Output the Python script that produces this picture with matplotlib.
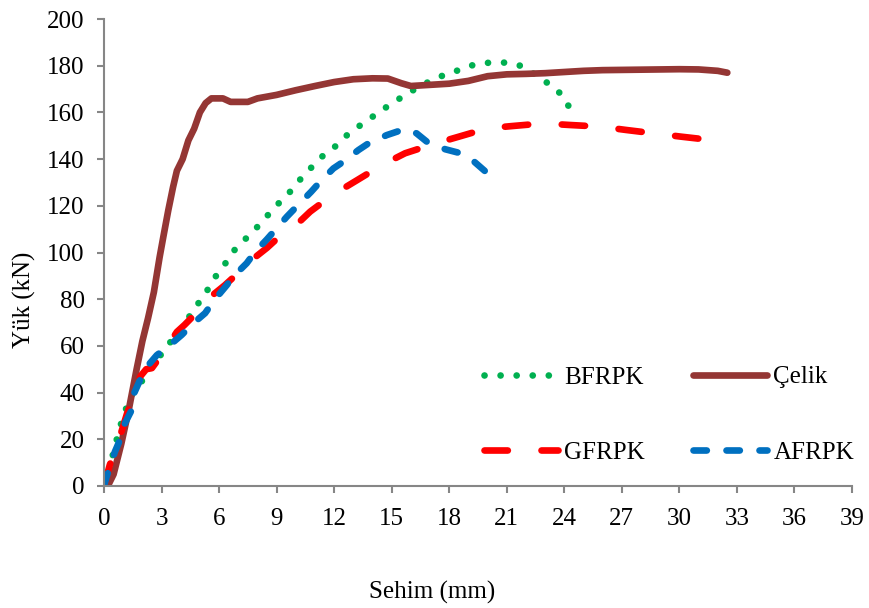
import matplotlib
matplotlib.use("Agg")
import matplotlib.pyplot as plt

plt.rcParams['font.family'] = ['Liberation Serif', 'DejaVu Serif']

# Yük-sehim verileri
celik_x = [0.2, 0.5, 0.9, 1.3, 1.7, 2.0, 2.3, 2.6, 2.9, 3.1, 3.35, 3.6, 3.8, 4.1, 4.4, 4.7, 5.0, 5.3,
           5.6, 6.2, 6.6, 7.5, 8.0, 9.0, 10.0, 11.0, 12.0, 13.0, 14.0, 14.8, 15.5, 16.0, 17.0, 18.0,
           19.0, 20.0, 21.0, 22.0, 23.0, 24.0, 25.0, 26.0, 28.0, 30.0, 31.0, 32.0, 32.5]
celik_y = [0, 5, 18, 33, 50, 62, 72, 83, 98, 107, 118, 128, 135, 140, 148, 153, 160, 164,
           166, 166, 164.5, 164.5, 166, 167.5, 169.5, 171.3, 173, 174.2, 174.6, 174.5, 172.5, 171.3, 171.8, 172.3,
           173.5, 175.5, 176.3, 176.5, 176.8, 177.3, 177.8, 178.1, 178.3, 178.5, 178.4, 177.8, 177]

bfrpk_x = [0, 0.3, 0.6, 0.9, 1.1, 1.4, 1.9, 2.4, 2.9, 3.4, 3.9, 4.4, 4.9, 5.4, 5.8, 6.3, 6.8, 7.4, 8.0,
           8.5, 9.1, 9.7, 10.2, 10.8, 11.4, 12.1, 12.7, 13.4, 14.1, 14.8, 15.5, 16.2, 17.0, 17.7, 18.6,
           19.35, 20.2, 21.06, 21.9, 22.6, 23.3, 23.9, 24.3]
bfrpk_y = [0, 8, 18, 27, 32, 38.5, 44, 50, 55.5, 61, 66, 72, 78, 84, 89.5, 95, 101, 106, 111,
           115.6, 121, 126, 131, 136.3, 141.3, 145.7, 150.5, 154.7, 158.7, 162.7, 166.4, 169.9, 173.4, 175.9, 178.4,
           180.6, 181.4, 181.3, 179.6, 175.3, 171.7, 167.3, 161.6]

gfrpk_x = [0, 0.3, 0.6, 0.9, 1.2, 1.5, 1.9, 2.2, 2.5, 2.9, 3.4, 3.8, 4.2, 4.8, 5.4, 6.3, 6.9, 7.5, 8.5,
           9.1, 9.7, 10.2, 10.75, 11.4, 12.05, 13.2, 14.5, 15.7, 17.2, 18.5, 20.0, 21.35, 22.9, 24.3,
           25.9, 27.2, 28.7, 30.1, 31.6, 32.3]
gfrpk_y = [0, 9, 16, 23, 31, 38, 47, 50, 50.5, 55, 61, 66, 69, 74, 80, 86, 90.5, 95.5, 102,
           106.5, 111, 113.2, 117.5, 121.5, 125.3, 131, 137.5, 142.5, 146.5, 149.6, 153.2, 154.2, 155.3, 154.6,
           153.9, 152.5, 151, 149.6, 148.2, 147.5]

afrpk_x = [0, 0.14, 0.57, 0.83, 1.0, 1.44, 1.53, 1.88, 2.23, 2.75, 3.44, 4.05, 4.66, 5.27, 5.79, 6.4,
           6.73, 7.44, 7.88, 8.49, 8.92, 9.53, 10.2, 10.8, 11.27, 11.96, 12.5, 13.27, 13.8, 14.75, 15.44,
           15.8, 16.3, 16.9, 17.8, 18.5, 19.3, 19.9, 20.57]
afrpk_y = [0, 4, 14.7, 19.7, 25.4, 32.5, 39, 45.4, 51, 56, 60.4, 64.7, 69.7, 74, 80, 86,
           89.6, 95.4, 100.3, 105.6, 109.6, 115.3, 121, 126, 130.3, 136, 139, 143.9, 146.8, 150.3, 152.2,
           152.8, 151, 147, 144.2, 142.7, 138.9, 134.6, 129.3]

x_ticks = list(range(0, 40, 3))
y_ticks = list(range(0, 201, 20))

fs = 18
fig = plt.figure(figsize=(8.7, 6.08), dpi=100)
ax = fig.add_axes([104 / 870, 1 - 486 / 608, 748 / 870, 467 / 608])

lw = 4.8
kw = dict(lw=lw, solid_capstyle='round', dash_capstyle='round')
l_b, = ax.plot(bfrpk_x, bfrpk_y, color='#00B050', ls=(0, (0.01, 2.4)), label='BFRPK', **kw)
l_c, = ax.plot(celik_x, celik_y, color='#943634', ls='-', label='Çelik', **kw)
l_g, = ax.plot(gfrpk_x, gfrpk_y, color='#FF0000', ls=(0, (3.5, 5.05)), label='GFRPK', **kw)
l_a, = ax.plot(afrpk_x, afrpk_y, color='#0070C0', ls=(0, (2.0, 2.95)), label='AFRPK', **kw)

ax.set_xlim(0, 39)
ax.set_ylim(0, 200)
ax.set_xticks(x_ticks)
ax.set_yticks(y_ticks)

for s in ['top', 'right']:
    ax.spines[s].set_visible(False)
for s in ['left', 'bottom']:
    ax.spines[s].set_color('#868686')
    ax.spines[s].set_linewidth(1.5)
ax.tick_params(axis='both', colors='#868686', labelcolor='black', labelsize=fs,
               length=5, width=1.5, direction='out')
ax.tick_params(axis='x', pad=11)
ax.tick_params(axis='y', pad=9)

fig.text(432 / 870, 1 - 592 / 608, 'Sehim (mm)', ha='center', va='center', fontsize=fs)
fig.text(24 / 870, 1 - 300 / 608, 'Yük (kN)', ha='center', va='center', rotation=90, fontsize=fs)

leg = fig.legend([l_b, l_g, l_c, l_a], ['BFRPK', 'GFRPK', 'Çelik', 'AFRPK'],
                 ncol=2, frameon=False, fontsize=fs,
                 loc='upper left', bbox_to_anchor=(484 / 870, 1 - 366 / 608),
                 borderpad=0, borderaxespad=0, handlelength=2.95, handletextpad=0.25,
                 columnspacing=1.95, labelspacing=2.12)

fig.savefig('out.png', dpi=100)
